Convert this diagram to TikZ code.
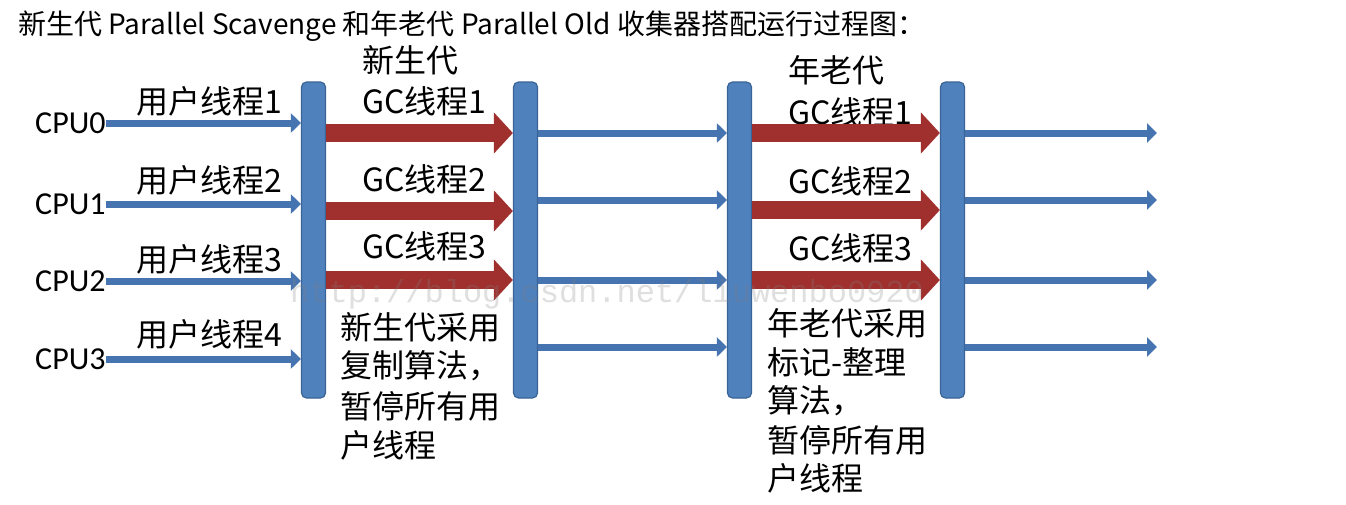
\documentclass[tikz,border=0pt]{standalone}
\usepackage{fontspec}
\newfontfamily\cjk{Noto Sans CJK SC}
\newfontfamily\cpufont{Carlito}
\newfontfamily\wmfont{Liberation Mono}
\usetikzlibrary{arrows.meta}
\definecolor{barfill}{HTML}{4F81BD}
\definecolor{barline}{HTML}{3A6496}
\definecolor{thinblue}{HTML}{4674B0}
\definecolor{gcred}{HTML}{A0302E}
\tikzset{
  bar/.style={draw=barline, line width=1.2pt, fill=barfill, rounded corners=5pt,
    minimum width=24pt, minimum height=316pt, inner sep=0pt},
  lab/.style={font=\cjk\fontsize{32}{38}\selectfont, inner sep=0pt, anchor=west},
  cpulab/.style={font=\cpufont\fontsize{32}{38}\selectfont, inner sep=0pt, anchor=west},
  titlelab/.style={font=\cjk\fontsize{28}{33}\selectfont, inner sep=0pt, anchor=west},
  thinarr/.style={draw=thinblue, line width=7pt, -{Triangle[length=10pt,width=19pt]}},
  redarr/.style={draw=gcred, line width=18pt, -{Triangle[length=19pt,width=40pt]}},
}
\begin{document}
\begin{tikzpicture}[x=1pt,y=-1pt]
\useasboundingbox[fill=white] (0,0) rectangle (1346,504);
% title
\node[titlelab] (title) at (18,26) {新生代 Parallel Scavenge 和年老代 Parallel Old 收集器搭配运行过程图：};
% bars
\node[bar] (bar1) at (313.5,240) {};
\node[bar] (bar2) at (525.5,240) {};
\node[bar] (bar3) at (739.5,240) {};
\node[bar] (bar4) at (952.5,240) {};
% CPU labels
\node[cpulab] (cpu0) at (35,123) {CPU0};
\node[cpulab] (cpu1) at (35,204) {CPU1};
\node[cpulab] (cpu2) at (35,281) {CPU2};
\node[cpulab] (cpu3) at (35,359) {CPU3};
% user thread labels
\node[lab] (u1) at (136,101) {用户线程1};
\node[lab] (u2) at (136,180) {用户线程2};
\node[lab] (u3) at (136,259) {用户线程3};
\node[lab] (u4) at (136,334) {用户线程4};
% CPU arrows
\draw[thinarr] (cpu0.east) -- (bar1.west |- cpu0.east);
\draw[thinarr] (cpu1.east) -- (bar1.west |- cpu1.east);
\draw[thinarr] (cpu2.east) -- (bar1.west |- cpu2.east);
\draw[thinarr] (cpu3.east) -- (bar1.west |- cpu3.east);
% young GC
\node[lab] (young) at (362,60) {新生代};
\node[lab] (yg1) at (362,101) {GC线程1};
\node[lab] (yg2) at (362,179) {GC线程2};
\node[lab] (yg3) at (362,246) {GC线程3};
\draw[redarr] (bar1.east |- 0,133) -- (bar2.west |- 0,133);
\draw[redarr] (bar1.east |- 0,211) -- (bar2.west |- 0,211);
\draw[redarr] (bar1.east |- 0,280) -- (bar2.west |- 0,280);
% middle thin arrows
\draw[thinarr] (bar2.east |- 0,133) -- (bar3.west |- 0,133);
\draw[thinarr] (bar2.east |- 0,200) -- (bar3.west |- 0,200);
\draw[thinarr] (bar2.east |- 0,280) -- (bar3.west |- 0,280);
\draw[thinarr] (bar2.east |- 0,347) -- (bar3.west |- 0,347);
% old GC
\node[lab] (old) at (788,70) {年老代};
\node[lab] (og1) at (788,112) {GC线程1};
\node[lab] (og2) at (788,181) {GC线程2};
\node[lab] (og3) at (788,248) {GC线程3};
\draw[redarr] (bar3.east |- 0,133) -- (bar4.west |- 0,133);
\draw[redarr] (bar3.east |- 0,210) -- (bar4.west |- 0,210);
\draw[redarr] (bar3.east |- 0,280) -- (bar4.west |- 0,280);
% right thin arrows
\coordinate (e0) at (1157,133);
\coordinate (e1) at (1157,200);
\coordinate (e2) at (1157,280);
\coordinate (e3) at (1157,347);
\draw[thinarr] (bar4.east |- e0) -- (e0);
\draw[thinarr] (bar4.east |- e1) -- (e1);
\draw[thinarr] (bar4.east |- e2) -- (e2);
\draw[thinarr] (bar4.east |- e3) -- (e3);
% notes
\node[lab] (n1a) at (340,327) {新生代采用};
\node[lab] (n1b) at (340,366) {复制算法，};
\node[lab] (n1c) at (340,406) {暂停所有用};
\node[lab] (n1d) at (340,445) {户线程};
\node[lab] (n2a) at (767,323) {年老代采用};
\node[lab] (n2b) at (767,362) {标记-整理};
\node[lab] (n2c) at (767,401) {算法，};
\node[lab] (n2d) at (767,440) {暂停所有用};
\node[lab] (n2e) at (767,478) {户线程};
% watermark
\node[font=\wmfont\fontsize{32}{38}\selectfont, text=gray, opacity=0.25, inner sep=0pt, anchor=west] (wm) at (290,294) {http://blog.csdn.net/liuwenbo0920};
\end{tikzpicture}
\end{document}
